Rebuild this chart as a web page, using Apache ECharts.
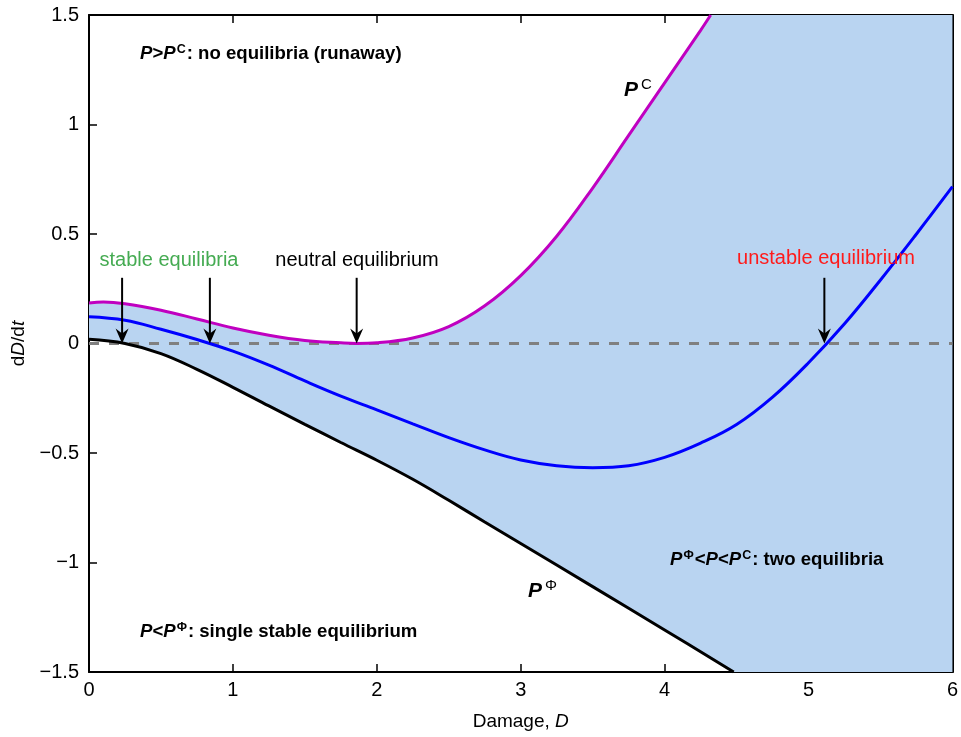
<!DOCTYPE html>
<html>
<head>
<meta charset="utf-8">
<script src="https://cdn.jsdelivr.net/npm/echarts@6/dist/echarts.min.js"></script>
<style>html,body{margin:0;padding:0;background:#fff}#c{width:961px;height:737px}</style>
</head>
<body>
<div id="c"></div>
<script>
// ---- data ----
// P^C (magenta, critical load)
const PC_D = [0, 0.1, 0.25, 0.5, 0.75, 1.0, 1.25, 1.5, 1.75, 1.86, 2.0, 2.25, 2.5, 2.75, 3.0, 3.25, 3.5, 3.75, 4.0, 4.25, 4.32];
const PC_V = [0.185, 0.19, 0.182, 0.152, 0.112, 0.071, 0.038, 0.014, 0.003, 0.0, 0.003, 0.025, 0.077, 0.172, 0.31, 0.49, 0.71, 0.95, 1.19, 1.43, 1.5];

// P (blue, intermediate load)
const P_D = [0, 0.25, 0.5, 0.75, 1.0, 1.25, 1.5, 1.75, 2.0, 2.25, 2.5, 2.75, 3.0, 3.25, 3.5, 3.75, 4.0, 4.25, 4.5, 4.75, 5.0, 5.25, 5.5, 5.75, 6.0];
const P_V = [0.122, 0.106, 0.065, 0.018, -0.035, -0.099, -0.171, -0.240, -0.303, -0.367, -0.430, -0.486, -0.532, -0.558, -0.567, -0.558, -0.520, -0.455, -0.370, -0.245, -0.088, 0.09, 0.29, 0.50, 0.716];

// P^Phi (black, lower load)
const PPHI_D = [0, 0.25, 0.5, 0.75, 1.0, 1.25, 1.5, 1.75, 2.0, 2.25, 2.5, 2.75, 3.0, 3.5, 4.0, 4.48];
const PPHI_V = [0.019, 0.0, -0.046, -0.118, -0.200, -0.285, -0.369, -0.452, -0.533, -0.620, -0.716, -0.815, -0.913, -1.11, -1.308, -1.5];

const EQ_D = [0.23, 0.84, 1.86, 5.11];      // equilibrium points (arrows)
const ARROW_TOP = 0.3;

const X_TICKS = [0, 1, 2, 3, 4, 5, 6];
const Y_TICKS = [-1.5, -1, -0.5, 0, 0.5, 1, 1.5];
const Y_TICK_LABELS = ['\u22121.5', '\u22121', '\u22120.5', '0', '0.5', '1', '1.5'];

// ---------------------------------------
const zip = (a, b) => a.map((v, i) => [v, b[i]]);
const FONT = '"Liberation Sans", Arial, Helvetica, sans-serif';
const XMIN = X_TICKS[0], XMAX = X_TICKS[X_TICKS.length - 1];
const YMIN = Y_TICKS[0], YMAX = Y_TICKS[Y_TICKS.length - 1];

const chart = echarts.init(document.getElementById('c'));

const axisCommon = {
  axisLine: {show: true, onZero: false, lineStyle: {color: '#000', width: 2}},
  axisTick: {show: true, inside: true, length: 8, lineStyle: {color: '#000', width: 1.5}},
  splitLine: {show: false}
};

const BF = 18.6;
const boldRich = {
  pi: {fontFamily: FONT, fontSize: BF, fontWeight: 'bold', fontStyle: 'italic', color: '#000', lineHeight: 22},
  b: {fontFamily: FONT, fontSize: BF, fontWeight: 'bold', color: '#000', lineHeight: 22},
  s: {fontFamily: FONT, fontSize: 12.5, fontWeight: 'bold', color: '#000', lineHeight: 22, verticalAlign: 'top', padding: [0, 1, 0, 1]}
};
const bigRich = {
  pi: {fontFamily: FONT, fontSize: 21, fontWeight: 'bold', fontStyle: 'italic', color: '#000', lineHeight: 26},
  s: {fontFamily: FONT, fontSize: 15, fontWeight: 'normal', color: '#000', lineHeight: 26, verticalAlign: 'top', padding: [0, 0, 0, 3]}
};
const nameRich = {
  n: {fontFamily: FONT, fontSize: 19, color: '#000'},
  i: {fontFamily: FONT, fontSize: 19, fontStyle: 'italic', color: '#000'}
};

function txt(x, y, text, rich) {
  return {type: 'text', left: x, top: y, z: 100, style: {text: text, rich: rich}};
}
function plain(cx, cy, text, color) {
  return {type: 'text', x: cx, y: cy, z: 100,
    style: {text: text, fill: color, font: '20px ' + FONT, textAlign: 'center', textVerticalAlign: 'middle'}};
}

const option = {
  animation: false,
  backgroundColor: '#fff',
  grid: {left: 89, right: 6, top: 15, bottom: 65, containLabel: false},
  xAxis: [
    Object.assign({}, axisCommon, {
      type: 'value', min: XMIN, max: XMAX, interval: 1, position: 'bottom',
      name: '{n|Damage, }{i|D}', nameLocation: 'middle', nameGap: 40,
      nameTextStyle: {rich: nameRich},
      axisLabel: {color: '#000', fontFamily: FONT, fontSize: 20, margin: 8}
    }),
    Object.assign({}, axisCommon, {
      type: 'value', min: XMIN, max: XMAX, interval: 1, position: 'top', axisLabel: {show: false}
    })
  ],
  yAxis: [
    Object.assign({}, axisCommon, {
      type: 'value', min: YMIN, max: YMAX, interval: 0.5, position: 'left',
      name: '{n|d}{i|D}{n|/d}{i|t}', nameLocation: 'middle', nameGap: 57, nameRotate: 90,
      nameTextStyle: {rich: nameRich},
      axisLabel: {color: '#000', fontFamily: FONT, fontSize: 20, margin: 10,
        formatter: v => { const i = Y_TICKS.findIndex(t => Math.abs(t - v) < 1e-9); return i >= 0 ? Y_TICK_LABELS[i] : ''; }}
    }),
    Object.assign({}, axisCommon, {
      type: 'value', min: YMIN, max: YMAX, interval: 0.5, position: 'right',
      axisLabel: {show: false}, axisTick: {show: false}
    })
  ],
  series: [
    {
      type: 'custom', name: 'band', z: 1, clip: true, silent: true,
      data: [[0, 0]],
      renderItem: function (params, api) {
        const pts = [];
        PC_D.forEach((d, i) => pts.push(api.coord([d, PC_V[i]])));
        pts.push(api.coord([XMAX, YMAX]));
        pts.push(api.coord([XMAX, YMIN]));
        for (let i = PPHI_D.length - 1; i >= 0; i--) pts.push(api.coord([PPHI_D[i], PPHI_V[i]]));
        return {type: 'polygon', shape: {points: pts, smooth: 0}, style: {fill: '#b9d4f1', stroke: null}};
      }
    },
    {
      type: 'line', name: 'zero', z: 2, symbol: 'none', silent: true,
      data: [[XMIN, 0], [XMAX, 0]],
      lineStyle: {color: '#808080', width: 3, type: [10, 10]}
    },
    {type: 'line', name: 'PC', z: 3, symbol: 'none', smooth: 0.4, data: zip(PC_D, PC_V), lineStyle: {color: '#c000c0', width: 3}},
    {type: 'line', name: 'P', z: 3, symbol: 'none', smooth: 0.4, data: zip(P_D, P_V), lineStyle: {color: '#0000ff', width: 3}},
    {type: 'line', name: 'PPhi', z: 3, symbol: 'none', smooth: 0.4, data: zip(PPHI_D, PPHI_V), lineStyle: {color: '#000', width: 3}},
    {
      type: 'custom', name: 'arrows', z: 5, silent: true,
      data: EQ_D.map(d => [d, ARROW_TOP]),
      renderItem: function (params, api) {
        const top = api.coord([api.value(0), api.value(1)]);
        const tip = api.coord([api.value(0), 0]);
        return {
          type: 'group', children: [
            {type: 'line', shape: {x1: top[0], y1: top[1], x2: tip[0], y2: tip[1] - 8}, style: {stroke: '#000', lineWidth: 2}},
            {type: 'polygon', shape: {points: [[tip[0], tip[1]], [tip[0] - 6.5, tip[1] - 15], [tip[0], tip[1] - 10], [tip[0] + 6.5, tip[1] - 15]]}, style: {fill: '#000'}}
          ]
        };
      }
    }
  ],
  graphic: [
    txt(140, 43, '{pi|P}{b|>}{pi|P}{s|C}{b|: no equilibria (runaway)}', boldRich),
    txt(624, 77, '{pi|P}{s|C}', bigRich),
    txt(528, 578, '{pi|P}{s|Φ}', bigRich),
    txt(670, 549, '{pi|P}{s|Φ}{b|<}{pi|P}{b|<}{pi|P}{s|C}{b|: two equilibria}', boldRich),
    txt(140, 621, '{pi|P}{b|<}{pi|P}{s|Φ}{b|: single stable equilibrium}', boldRich),
    plain(169, 260, 'stable equilibria', '#45ab52'),
    plain(357, 260, 'neutral equilibrium', '#000'),
    plain(826, 258, 'unstable equilibrium', '#ff1a1a')
  ]
};
chart.setOption(option);
</script>
</body>
</html>
